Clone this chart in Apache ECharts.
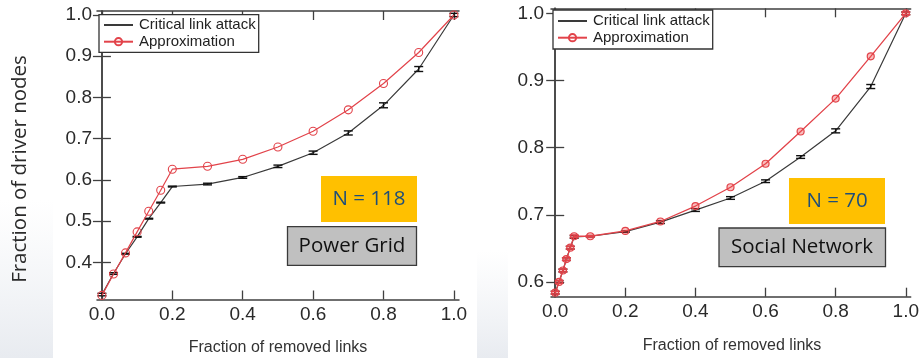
<!DOCTYPE html>
<html>
<head>
<meta charset="utf-8">
<script src="https://cdn.jsdelivr.net/npm/echarts@6/dist/echarts.min.js"></script>
<style>
html,body{margin:0;padding:0;background:#fff;}
#c{width:922px;height:358px;}
</style>
</head>
<body>
<div id="c"></div>
<script>
// ---- Data ----
const seriesNames = ['Critical link attack', 'Approximation'];
const xTickValues = [0, 0.2, 0.4, 0.6, 0.8, 1.0];
const yTickLeft = [0.4, 0.5, 0.6, 0.7, 0.8, 0.9, 1.0];
const yTickRight = [0.6, 0.7, 0.8, 0.9, 1.0];

// Power Grid (N = 118)
const xLeft = [0, 0.033, 0.067, 0.1, 0.133, 0.167, 0.2, 0.3, 0.4, 0.5, 0.6, 0.7, 0.8, 0.9, 1.0];
const attackLeft = [0.322, 0.373, 0.421, 0.462, 0.506, 0.545, 0.584, 0.590, 0.606, 0.633, 0.666, 0.714, 0.781, 0.869, 1.0];
const attackErrLeft = [0.003, 0.002, 0.001, 0.001, 0.001, 0.001, 0.001, 0.002, 0.002, 0.003, 0.004, 0.005, 0.006, 0.006, 0.004];
const approxLeft = [0.320, 0.372, 0.423, 0.474, 0.524, 0.575, 0.626, 0.633, 0.650, 0.680, 0.718, 0.770, 0.834, 0.909, 1.0];

// Social Network (N = 70)
const xRight = [0, 0.011, 0.022, 0.032, 0.043, 0.054, 0.1, 0.2, 0.3, 0.4, 0.5, 0.6, 0.7, 0.8, 0.9, 1.0];
const attackRight = [0.584, 0.600, 0.617, 0.634, 0.651, 0.667, 0.668, 0.675, 0.689, 0.707, 0.725, 0.750, 0.786, 0.825, 0.891, 1.0];
const attackErrRight = [0.002, 0.002, 0.002, 0.002, 0.002, 0.002, 0.001, 0.001, 0.002, 0.002, 0.002, 0.002, 0.002, 0.003, 0.003, 0.002];
const approxRight = [0.584, 0.600, 0.617, 0.634, 0.651, 0.668, 0.668, 0.676, 0.690, 0.713, 0.741, 0.776, 0.824, 0.873, 0.936, 1.0];
const approxErrRight = [0.002, 0.002, 0.002, 0.002, 0.002, 0.002, 0.001, 0, 0, 0, 0, 0, 0, 0, 0, 0.002];

const panelLabels = ['Power Grid', 'Social Network'];
const sizeLabels = ['N = 118', 'N = 70'];
const xTitle = 'Fraction of removed links';
const yTitle = 'Fraction of driver nodes';

// ---- Styles ----
const BLACK = '#3a3a3a';
const RED = '#e2434a';
const AXIS = '#404040';
const tickFont = {fontFamily: 'Liberation Sans', fontSize: 19, color: '#2a2a2a'};
const fmt = v => Number(v).toFixed(1);

function errRender(params, api) {
  const x = api.value(0), y = api.value(1), e = api.value(2);
  if (!(e > 0)) return null;
  const hi = api.coord([x, y + e]);
  const lo = api.coord([x, y - e]);
  const hw = 4.5;
  const style = {stroke: api.visual('color'), lineWidth: 1.4};
  return {
    type: 'group',
    children: [
      {type: 'line', shape: {x1: hi[0], y1: hi[1], x2: lo[0], y2: lo[1]}, style},
      {type: 'line', shape: {x1: hi[0] - hw, y1: hi[1], x2: hi[0] + hw, y2: hi[1]}, style},
      {type: 'line', shape: {x1: lo[0] - hw, y1: lo[1], x2: lo[0] + hw, y2: lo[1]}, style}
    ]
  };
}

function xAxes(gridIndex, min, max) {
  const line = {show: true, lineStyle: {color: AXIS, width: 1.5}};
  return [
    {type: 'value', gridIndex, position: 'bottom', min, max,
      axisLine: line, splitLine: {show: false},
      axisTick: {show: true, inside: true, length: 9, customValues: xTickValues, lineStyle: {color: AXIS, width: 1.3}},
      axisLabel: {show: true, customValues: xTickValues, formatter: fmt, margin: 6, ...tickFont}},
    {type: 'value', gridIndex, position: 'top', min, max,
      axisLine: line, splitLine: {show: false},
      axisTick: {show: true, inside: true, length: 9, customValues: xTickValues, lineStyle: {color: AXIS, width: 1.3}},
      axisLabel: {show: false}}
  ];
}
function yAxes(gridIndex, min, max, ticks, margin) {
  const line = {show: true, lineStyle: {color: AXIS, width: 1.5}};
  return [
    {type: 'value', gridIndex, position: 'left', min, max,
      axisLine: line, splitLine: {show: false},
      axisTick: {show: true, inside: true, length: 9, customValues: ticks, lineStyle: {color: AXIS, width: 1.3}},
      axisLabel: {show: true, customValues: ticks, formatter: fmt, margin, ...tickFont}},
    {type: 'value', gridIndex, position: 'right', min, max,
      axisLine: line, splitLine: {show: false},
      axisTick: {show: true, inside: true, length: 9, customValues: ticks, lineStyle: {color: AXIS, width: 1.3}},
      axisLabel: {show: false}}
  ];
}

function legendCfg(left, top, padding) {
  return {
    data: [
      {name: seriesNames[0], itemStyle: {color: 'rgba(0,0,0,0)', borderColor: 'rgba(0,0,0,0)', borderWidth: 0, opacity: 0}},
      {name: seriesNames[1]}
    ],
    orient: 'vertical', left, top, padding,
    itemWidth: 29, itemHeight: 9, itemGap: 0.7,
    backgroundColor: '#fff', borderColor: '#333', borderWidth: 1.3, borderRadius: 0,
    selectedMode: false,
    textStyle: {fontFamily: 'Liberation Sans', fontSize: 15, lineHeight: 16, color: '#222', padding: [0, 0, 0, 1]}
  };
}

const chart = echarts.init(document.getElementById('c'), null, {renderer: 'canvas'});

const option = {
  animation: false,
  backgroundColor: '#fff',
  grid: [
    {left: 97, top: 11, width: 362, height: 288.5},
    {left: 551, top: 8.3, width: 363, height: 288.4}
  ],
  xAxis: [...xAxes(0, -0.014, 1.0145), ...xAxes(1, -0.012, 1.014)],
  yAxis: [...yAxes(0, 0.31, 1.0097, yTickLeft, 5), ...yAxes(1, 0.578, 1.0075, yTickRight, 7)],
  legend: [legendCfg(99, 14.7, [2.3, 3, 2.6, 4]), legendCfg(553, 10, [3, 3, 3.3, 4])],
  series: [
    // Left panel
    {name: seriesNames[0], type: 'line', xAxisIndex: 0, yAxisIndex: 0,
      data: xLeft.map((x, i) => [x, attackLeft[i]]),
      symbol: 'none', lineStyle: {color: BLACK, width: 1.2}, itemStyle: {color: BLACK}, z: 3},
    {type: 'custom', xAxisIndex: 0, yAxisIndex: 0, renderItem: errRender,
      encode: {x: 0, y: 1},
      data: xLeft.map((x, i) => [x, attackLeft[i], attackErrLeft[i]]),
      itemStyle: {color: '#111'}, z: 4},
    {name: seriesNames[1], type: 'line', xAxisIndex: 0, yAxisIndex: 0,
      data: xLeft.map((x, i) => [x, approxLeft[i]]),
      symbol: 'circle', symbolSize: 8, showAllSymbol: true,
      lineStyle: {color: RED, width: 1.2},
      itemStyle: {color: 'rgba(255,255,255,0)', borderColor: RED, borderWidth: 1.1}, z: 5},
    // Right panel
    {name: seriesNames[0], type: 'line', xAxisIndex: 2, yAxisIndex: 2,
      data: xRight.map((x, i) => [x, attackRight[i]]),
      symbol: 'none', lineStyle: {color: BLACK, width: 1.2}, itemStyle: {color: BLACK}, z: 3},
    {type: 'custom', xAxisIndex: 2, yAxisIndex: 2, renderItem: errRender,
      encode: {x: 0, y: 1},
      data: xRight.map((x, i) => [x, attackRight[i], attackErrRight[i]]),
      itemStyle: {color: '#111'}, z: 4},
    {name: seriesNames[1], type: 'line', xAxisIndex: 2, yAxisIndex: 2,
      data: xRight.map((x, i) => [x, approxRight[i]]),
      symbol: 'circle', symbolSize: 7, showAllSymbol: true,
      lineStyle: {color: RED, width: 1.3},
      itemStyle: {color: 'rgba(240,70,70,0.35)', borderColor: RED, borderWidth: 1.2}, z: 5},
    {type: 'custom', xAxisIndex: 2, yAxisIndex: 2, renderItem: errRender,
      encode: {x: 0, y: 1},
      data: xRight.map((x, i) => [x, approxRight[i], approxErrRight[i]]),
      itemStyle: {color: RED}, z: 6}
  ],
  graphic: [
    // faint slide background
    {type: 'rect', shape: {x: 0, y: 200, width: 53, height: 158}, z: -10, silent: true,
      style: {fill: new echarts.graphic.LinearGradient(0, 0, 0, 1, [{offset: 0, color: 'rgba(236,239,243,0)'}, {offset: 1, color: '#e8ebf0'}])}},
    {type: 'rect', shape: {x: 477, y: 250, width: 31, height: 108}, z: -10, silent: true,
      style: {fill: new echarts.graphic.LinearGradient(0, 0, 0, 1, [{offset: 0, color: 'rgba(236,239,243,0)'}, {offset: 1, color: '#e8ebf0'}])}},
    // axis titles
    {type: 'text', x: 20, y: 169, rotation: Math.PI / 2, z: 10,
      style: {text: yTitle, fontFamily: 'Open Sans', fontSize: 20.5, fill: '#2a2a2a', textAlign: 'center', textVerticalAlign: 'middle'}},
    {type: 'text', x: 278, y: 347.5, z: 10,
      style: {text: xTitle, fontFamily: 'Liberation Sans', fontSize: 16, fill: '#333', textAlign: 'center', textVerticalAlign: 'middle'}},
    {type: 'text', x: 732, y: 345.5, z: 10,
      style: {text: xTitle, fontFamily: 'Liberation Sans', fontSize: 16, fill: '#333', textAlign: 'center', textVerticalAlign: 'middle'}},
    // Left annotation boxes
    {type: 'rect', shape: {x: 321, y: 176, width: 96, height: 46}, z: 20, style: {fill: '#ffc000'}},
    {type: 'text', x: 369, y: 199.5, z: 21,
      style: {text: sizeLabels[0], fontFamily: 'Open Sans', fontSize: 20.5, fill: '#1f4e79', textAlign: 'center', textVerticalAlign: 'middle'}},
    {type: 'rect', shape: {x: 287.5, y: 226.7, width: 129, height: 38.6}, z: 20, style: {fill: '#c0c0c0', stroke: '#3a3a3a', lineWidth: 1.3}},
    {type: 'text', x: 352, y: 246, z: 21,
      style: {text: panelLabels[0], fontFamily: 'Open Sans', fontSize: 20.5, fill: '#111', textAlign: 'center', textVerticalAlign: 'middle'}},
    // Right annotation boxes
    {type: 'rect', shape: {x: 789, y: 178, width: 96, height: 46}, z: 20, style: {fill: '#ffc000'}},
    {type: 'text', x: 837, y: 201.5, z: 21,
      style: {text: sizeLabels[1], fontFamily: 'Open Sans', fontSize: 20.5, fill: '#1f4e79', textAlign: 'center', textVerticalAlign: 'middle'}},
    {type: 'rect', shape: {x: 719, y: 228, width: 166.5, height: 38.7}, z: 20, style: {fill: '#c0c0c0', stroke: '#3a3a3a', lineWidth: 1.3}},
    {type: 'text', x: 802, y: 247.5, z: 21,
      style: {text: panelLabels[1], fontFamily: 'Open Sans', fontSize: 20.5, fill: '#111', textAlign: 'center', textVerticalAlign: 'middle'}}
  ]
};
chart.setOption(option);
</script>
</body>
</html>
